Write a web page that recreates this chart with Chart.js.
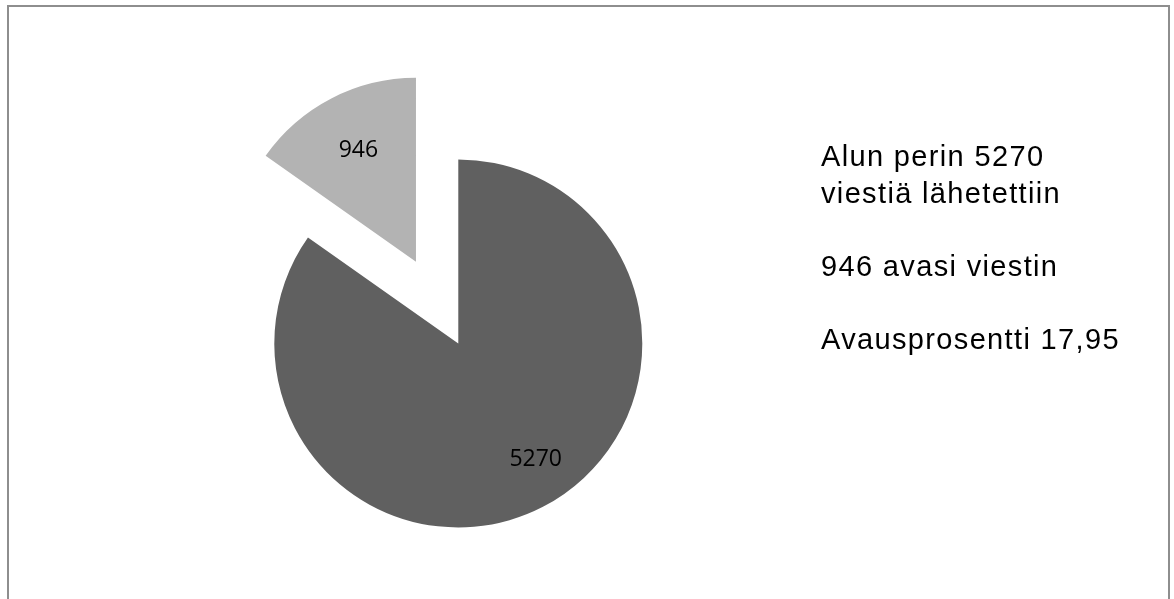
<!DOCTYPE html>
<html>
<head>
<meta charset="utf-8">
<script src="https://cdn.jsdelivr.net/npm/chart.js@4/dist/chart.umd.min.js"></script>
<style>
  html, body { margin: 0; padding: 0; background: #ffffff; width: 1174px; height: 599px; overflow: hidden; }
  #wrap { position: absolute; left: 0; top: 0; width: 1174px; height: 599px; }
  #frame { position: absolute; left: 7px; top: 5px; width: 1163px; height: 700px; box-sizing: border-box;
           border: 2px solid #8e8e8e; pointer-events: none; }
  #notes { position: absolute; left: 821px; top: 138px; font-family: "Liberation Sans", Arial, sans-serif;
           font-size: 29px; line-height: 36.5px; letter-spacing: 1.35px; color: #000; white-space: pre; }
</style>
</head>
<body>
<div id="wrap"><canvas id="c" width="1174" height="599"></canvas></div>
<div id="frame"></div>
<div id="notes"></div>
<script>
// ---- data ----
const categories = ["Lähetetty", "Avattu"];
const values = [5270, 946];
const sliceColors = ["#606060", "#b3b3b3"];
const noteLines = ["Alun perin 5270", "viestiä lähetettiin", "", "946 avasi viestin", "", "Avausprosentti 17,95"];

document.getElementById('notes').textContent = noteLines.join('\n');

const explodePlugin = {
  id: 'explode',
  beforeDatasetDraw(chart, args, opts) {
    const ctx = chart.ctx;
    args.meta.data.forEach((arc, i) => {
      const d = (opts.distance && opts.distance[i]) || 0;
      const p = arc.getProps(['startAngle', 'endAngle']);
      const mid = (p.startAngle + p.endAngle) / 2;
      ctx.save();
      ctx.translate(Math.cos(mid) * d, Math.sin(mid) * d);
      arc.draw(ctx);
      ctx.restore();
    });
    return false;
  }
};

const labelPlugin = {
  id: 'sliceLabels',
  afterDatasetsDraw(chart, args, opts) {
    const ctx = chart.ctx;
    const meta = chart.getDatasetMeta(0);
    const dist = chart.options.plugins.explode.distance;
    const data = chart.data.datasets[0].data;
    ctx.save();
    ctx.font = opts.font;
    ctx.fillStyle = opts.color;
    ctx.textAlign = 'center';
    ctx.textBaseline = 'middle';
    meta.data.forEach((arc, i) => {
      const p = arc.getProps(['x', 'y', 'startAngle', 'endAngle', 'outerRadius']);
      const d = dist[i] || 0;
      const mid = (p.startAngle + p.endAngle) / 2;
      const cx = p.x + Math.cos(mid) * d;
      const cy = p.y + Math.sin(mid) * d;
      const pl = opts.place[i];
      const a = p.startAngle + (p.endAngle - p.startAngle) * pl.a;
      const r = p.outerRadius * pl.r;
      ctx.fillText(String(data[i]), cx + Math.cos(a) * r, cy + Math.sin(a) * r);
    });
    ctx.restore();
  }
};

new Chart(document.getElementById('c'), {
  type: 'pie',
  data: {
    labels: categories,
    datasets: [{
      data: values,
      backgroundColor: sliceColors,
      borderWidth: 0,
      hoverOffset: 0
    }]
  },
  options: {
    responsive: false,
    animation: false,
    radius: 184,
    layout: { padding: { left: 0, right: 257.4, top: 88, bottom: 0 } },
    plugins: {
      legend: { display: false },
      tooltip: { enabled: false },
      explode: { distance: [0, 92] },
      sliceLabels: {
        font: '23px "Open Sans", "Liberation Sans", sans-serif',
        color: '#000000',
        place: [{ r: 0.756, a: 0.479 }, { r: 0.68, a: 0.5 }]
      }
    }
  },
  plugins: [explodePlugin, labelPlugin]
});
</script>
</body>
</html>
